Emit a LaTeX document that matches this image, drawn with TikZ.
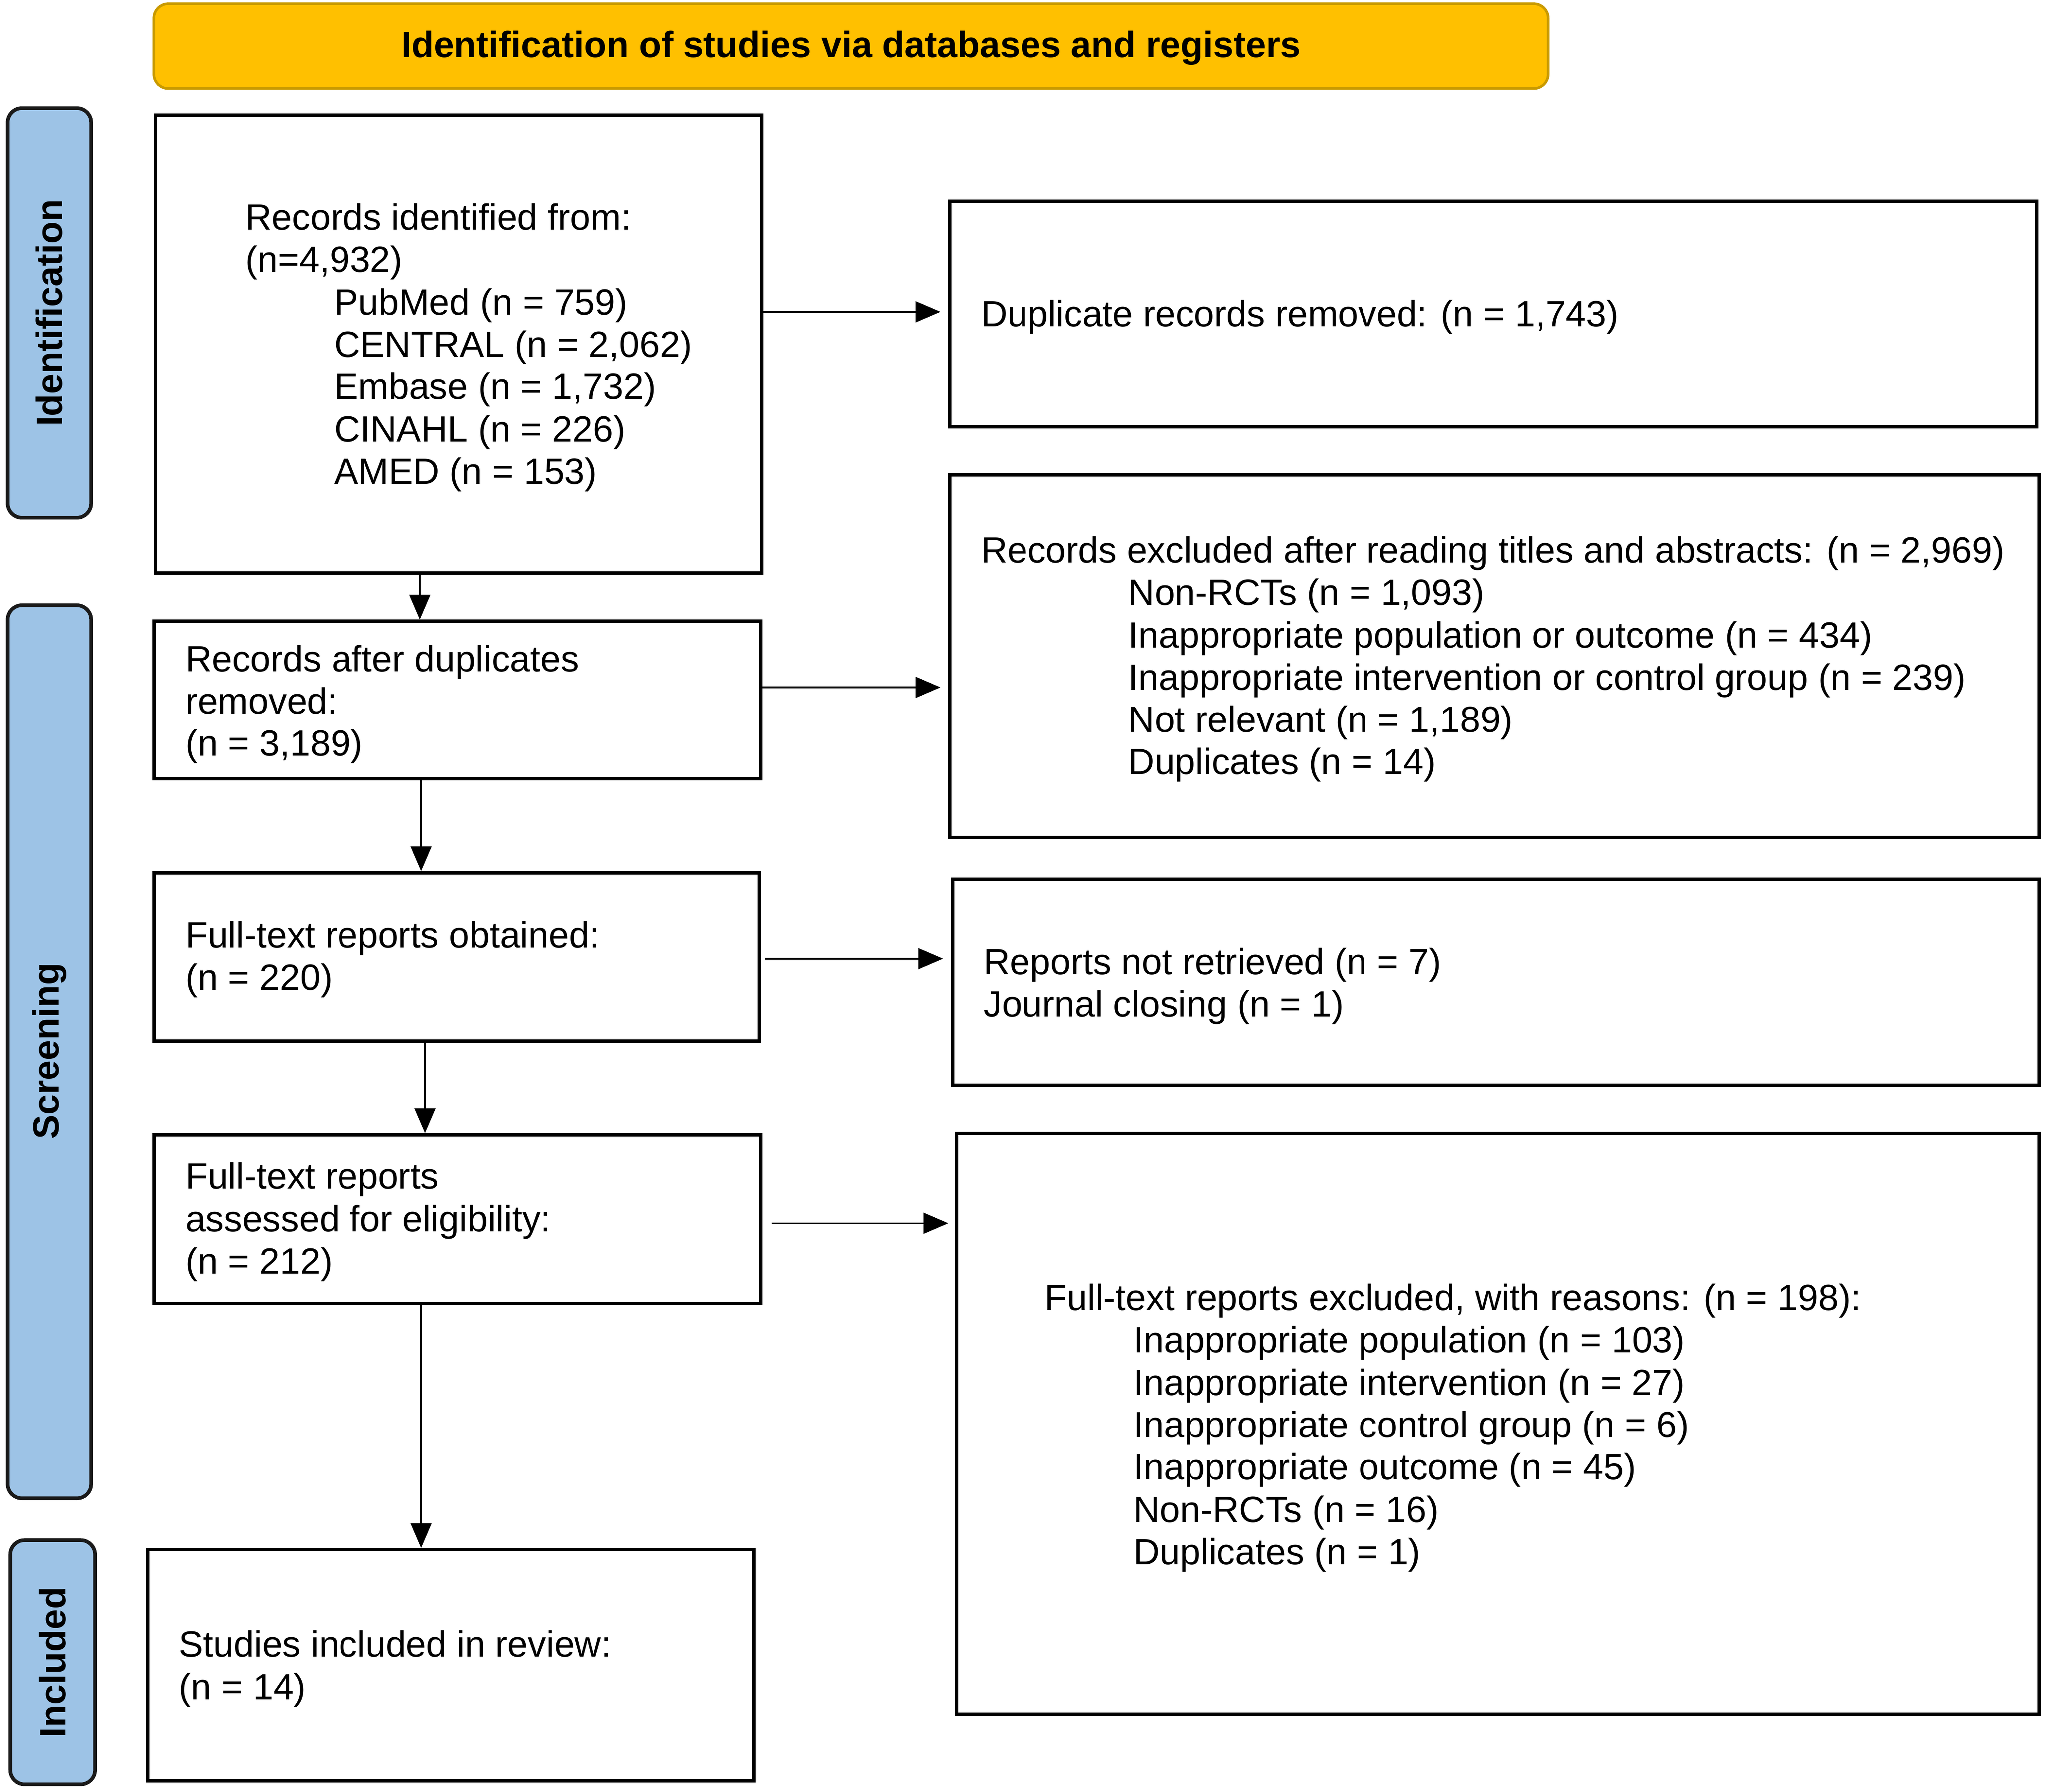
\documentclass[tikz,border=0pt]{standalone}
\usepackage{fontspec}
\setmainfont{Liberation Sans}
\usetikzlibrary{arrows.meta}
\definecolor{hdrfill}{HTML}{FFC000}
\definecolor{hdrdraw}{HTML}{C99A00}
\definecolor{sidefill}{HTML}{9DC3E6}
\definecolor{sidedraw}{HTML}{1A1A1A}
\begin{document}
\begin{tikzpicture}[x=1pt,y=-1pt,
  box/.style={draw=black,line width=2.6pt,fill=white},
  side/.style={draw=sidedraw,line width=2.8pt,fill=sidefill,rounded corners=11pt},
  txt/.style={inner sep=0pt,align=left,anchor=west,yshift=-3pt,font=\fontsize{28}{32.5}\selectfont},
  sidetxt/.style={inner sep=0pt,rotate=90,font=\fontsize{28}{32.5}\selectfont\bfseries},
  arr/.style={line width=1.3pt,-{Triangle[length=19pt,width=16pt]}}]
\useasboundingbox (0,0) rectangle (1568,1374);
% header
\draw[draw=hdrdraw,line width=2pt,fill=hdrfill,rounded corners=11pt] (118,3) rectangle (1187,68);
\node[inner sep=0pt,font=\fontsize{28}{32.5}\selectfont\bfseries] (hdr) at (652.5,37) {Identification of studies via databases and registers};
% side labels
\draw[side] (6,83) rectangle (70,397);
\node[sidetxt] (sid) at (38,240) {Identification};
\draw[side] (6,464) rectangle (70,1149);
\node[sidetxt] (sscr) at (38,806) {Screening};
\draw[side] (8,1181) rectangle (73,1368);
\node[sidetxt] (sinc) at (40.5,1274.5) {Included};
% boxes
\node[box,minimum width=465pt,minimum height=351pt,anchor=north west] (A) at (118,87) {};
\node[box,minimum width=833pt,minimum height=173pt,anchor=north west] (B) at (727,153) {};
\node[box,minimum width=465pt,minimum height=121pt,anchor=north west] (C) at (117,475) {};
\node[box,minimum width=835pt,minimum height=278pt,anchor=north west] (D) at (727,363) {};
\node[box,minimum width=464pt,minimum height=129pt,anchor=north west] (E) at (117,668) {};
\node[box,minimum width=833pt,minimum height=158pt,anchor=north west] (F) at (729,673) {};
\node[box,minimum width=465pt,minimum height=129pt,anchor=north west] (G) at (117,869) {};
\node[box,minimum width=830pt,minimum height=445pt,anchor=north west] (H) at (732,868) {};
\node[box,minimum width=465pt,minimum height=177pt,anchor=north west] (I) at (112,1187) {};
% texts
\node[txt] (tA) at (188,263.5) {Records identified from:\\(n=4,932)\\
\hspace*{68pt}PubMed (n = 759)\\
\hspace*{68pt}CENTRAL (n = 2,062)\\
\hspace*{68pt}Embase (n = 1,732)\\
\hspace*{68pt}CINAHL (n = 226)\\
\hspace*{68pt}AMED (n = 153)};
\node[txt] (tB) at (752,240) {Duplicate records removed: (n = 1,743)};
\node[txt] (tC) at (142,537) {Records after duplicates\\removed:\\(n = 3,189)};
\node[txt] (tD) at (752,502.5) {Records excluded after reading titles and abstracts: (n = 2,969)\\
\hspace*{113pt}Non-RCTs (n = 1,093)\\
\hspace*{113pt}Inappropriate population or outcome (n = 434)\\
\hspace*{113pt}Inappropriate intervention or control group (n = 239)\\
\hspace*{113pt}Not relevant (n = 1,189)\\
\hspace*{113pt}Duplicates (n = 14)};
\node[txt] (tE) at (142,732.5) {Full-text reports obtained:\\(n = 220)};
\node[txt] (tF) at (754,753) {Reports not retrieved (n = 7)\\Journal closing (n = 1)};
\node[txt] (tG) at (142,934) {Full-text reports\\assessed for eligibility:\\(n = 212)};
\node[txt] (tH) at (801,1092) {Full-text reports excluded, with reasons: (n = 198):\\
\hspace*{68pt}Inappropriate population (n = 103)\\
\hspace*{68pt}Inappropriate intervention (n = 27)\\
\hspace*{68pt}Inappropriate control group (n = 6)\\
\hspace*{68pt}Inappropriate outcome (n = 45)\\
\hspace*{68pt}Non-RCTs (n = 16)\\
\hspace*{68pt}Duplicates (n = 1)};
\node[txt] (tI) at (137,1276.5) {Studies included in review:\\(n = 14)};
% arrow endpoints
\coordinate (aB) at (721,239);
\coordinate (aD) at (721,527);
\coordinate (aF) at (723,735);
\coordinate (aH) at (727,938);
% arrows
\draw[arr] (A.east |- aB) -- (aB);
\draw[arr] (322,438) -- (322,475);
\draw[arr] (C.east |- aD) -- (aD);
\draw[arr] (323,596) -- (323,668);
\draw[arr] ([xshift=3pt]E.east |- aF) -- (aF);
\draw[arr] (326,797) -- (326,869);
\draw[arr] ([xshift=7pt]G.east |- aH) -- (aH);
\draw[arr] (323,998) -- (323,1187);
\end{tikzpicture}
\end{document}
